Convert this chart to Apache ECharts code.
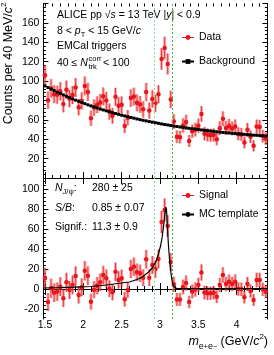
<!DOCTYPE html>
<html><head><meta charset="utf-8">
<script src="https://cdn.jsdelivr.net/npm/echarts@6/dist/echarts.min.js"></script>
<style>html,body{margin:0;padding:0;background:#fff}#c{width:274px;height:355px}</style>
</head><body><div id="c"></div>
<script>
// ---- data ----
const massBins = [1.50,1.54,1.58,1.62,1.66,1.70,1.74,1.78,1.82,1.86,1.90,1.94,1.98,2.02,2.06,2.10,2.14,2.18,2.22,2.26,2.30,2.34,2.38,2.42,2.46,2.50,2.54,2.58,2.62,2.66,2.70,2.74,2.78,2.82,2.86,2.90,2.94,2.98,3.02,3.06,3.10,3.14,3.18,3.22,3.26,3.30,3.34,3.38,3.42,3.46,3.50,3.54,3.58,3.62,3.66,3.70,3.74,3.78,3.82,3.86,3.90,3.94,3.98,4.02,4.06,4.10,4.14,4.18,4.22,4.26,4.30,4.34,4.38];
const dataCounts = [106.0,80.3,92.4,86.5,85.9,89.4,76.4,91.0,81.9,85.6,93.3,73.1,79.5,95.0,88.8,61.7,72.6,75.6,77.9,84.2,80.0,68.6,64.1,83.8,74.6,75.5,53.7,62.2,82.4,84.0,77.6,75.9,70.8,88.6,69.5,81.6,77.0,86.4,122.8,134.2,117.7,81.1,58.3,42.6,42.1,54.2,57.7,38.2,48.3,49.9,54.0,66.1,45.7,44.5,44.1,44.4,40.0,51.4,61.0,51.7,53.7,51.1,53.1,45.5,45.0,36.7,49.7,42.5,33.2,53.0,52.7,43.2,40.6];
const dataErr = [10.3,9.0,9.6,9.3,9.3,9.5,8.7,9.5,9.0,9.3,9.7,8.5,8.9,9.7,9.4,7.9,8.5,8.7,8.8,9.2,8.9,8.3,8.0,9.2,8.6,8.7,7.3,7.9,9.1,9.2,8.8,8.7,8.4,9.4,8.3,9.0,8.8,9.3,11.1,11.6,10.8,9.0,7.6,6.5,6.5,7.4,7.6,6.2,6.9,7.1,7.3,8.1,6.8,6.7,6.6,6.7,6.3,7.2,7.8,7.2,7.3,7.1,7.3,6.7,6.7,6.1,7.0,6.5,5.8,7.3,7.3,6.6,6.4];
const background = [95.0,93.3,91.7,90.2,88.6,87.1,85.7,84.3,82.9,81.6,80.3,79.1,77.8,76.7,75.5,74.4,73.3,72.3,71.2,70.2,69.3,68.3,67.4,66.5,65.6,64.8,64.0,63.2,62.4,61.7,60.9,60.2,59.5,58.9,58.2,57.6,57.0,56.4,55.8,55.2,54.7,54.1,53.6,53.1,52.6,52.2,51.7,51.2,50.8,50.4,50.0,49.6,49.2,48.8,48.4,48.1,47.7,47.4,47.0,46.7,46.4,46.1,45.8,45.5,45.3,45.0,44.7,44.5,44.2,44.0,43.7,43.5,43.3];
const signal = [11.0,-13.0,0.7,-3.7,-2.7,2.3,-9.3,6.7,-1.0,4.0,13.0,-6.0,1.7,18.3,13.3,-12.7,-0.7,3.3,6.7,14.0,10.7,0.3,-3.3,17.3,9.0,10.7,-10.3,-1.0,20.0,22.3,16.7,15.7,11.3,29.7,11.3,24.0,20.0,30.0,67.0,79.0,63.0,27.0,4.7,-10.5,-10.5,2.0,6.0,-13.0,-2.5,-0.5,4.0,16.5,-3.5,-4.3,-4.3,-3.7,-7.7,4.0,14.0,5.0,7.3,5.0,7.3,0.0,-0.3,-8.3,5.0,-2.0,-11.0,9.0,9.0,-0.3,-2.7];
const templateMass = [1.48,1.70,1.90,2.10,2.30,2.45,2.60,2.70,2.77,2.85,2.90,2.95,2.98,3.01,3.03,3.05,3.065,3.075,3.085,3.095,3.11,3.125,3.14,3.155,3.17,3.19,3.22,4.40];
const templateCounts = [1.0,1.3,1.8,2.5,4.0,5.5,7.0,9.5,12.0,17.0,21.0,28.0,35.0,44.0,53.0,65.0,76.0,82.0,79.0,64.0,44.0,29.0,18.0,9.0,4.0,1.3,0.6,0.5];
const windowEdges = [2.92, 3.16];
const xMajorTicks = [1.5,2,2.5,3,3.5,4];
const xMinorTicks = [1.5,1.6,1.7,1.8,1.9,2.0,2.1,2.2,2.3,2.4,2.5,2.6,2.7,2.8,2.9,3.0,3.1,3.2,3.3,3.4,3.5,3.6,3.7,3.8,3.9,4.0,4.1,4.2,4.3,4.4];
const topYLabels = [20,40,60,80,100,120,140,160];
const bottomYTicks = [-20,0,20,40,60,80,100];
const bottomYMinorTicks = [-28,-24,-20,-16,-12,-8,-4,0,4,8,12,16,20,24,28,32,36,40,44,48,52,56,60,64,68,72,76,80,84,88,92,96,100,104,108];

// ---- styling ----
const FF = '"Liberation Sans", Arial, Helvetica, sans-serif';
const RED = '#e8161c';
const PINK = 'rgba(240,90,90,0.5)';
const FS = 10.5;

function errRender(params, api) {
  const x = api.value(0), y = api.value(1), e = api.value(2);
  const t = api.coord([x, y + e]);
  const b = api.coord([x, y - e]);
  return {
    type: 'group',
    children: [
      {type: 'rect', shape: {x: t[0] - 1.5, y: t[1], width: 3, height: b[1] - t[1]}, style: {fill: PINK}},
      {type: 'line', shape: {x1: t[0], y1: t[1], x2: b[0], y2: b[1]}, style: {stroke: RED, lineWidth: 1, opacity: 0.75}}
    ]
  };
}

const winLine = {
  silent: true, symbol: ['none', 'none'], label: {show: false}, animation: false,
  lineStyle: {type: [2, 2], width: 1},
  data: [
    {xAxis: windowEdges[0], lineStyle: {color: '#8fdc8f', type: [2, 2], width: 1}},
    {xAxis: windowEdges[1], lineStyle: {color: '#3db83d', type: [2, 2], width: 1}}
  ]
};

const X_MIN = 1.48, X_MAX = 4.4;
function xAx(grid, pos, ticks, len, showLine, labels) {
  return {
    type: 'value', gridIndex: grid, position: pos, min: X_MIN, max: X_MAX,
    axisLine: {show: showLine, lineStyle: {color: '#000', width: 1}},
    axisTick: {show: true, inside: true, length: len, customValues: ticks, lineStyle: {color: '#000'}},
    axisLabel: labels ? {show: true, customValues: xMajorTicks, color: '#000', fontSize: FS, fontFamily: FF, margin: 1} : {show: false},
    splitLine: {show: false}
  };
}

const chart = echarts.init(document.getElementById('c'), null, {renderer: 'canvas'});
const option = {
  animation: false,
  backgroundColor: '#fff',
  grid: [
    {left: 43.4, right: 6.6, top: 3.5, height: 174.5},
    {left: 43.4, right: 6.6, top: 178, height: 141}
  ],
  xAxis: [
    xAx(0, 'bottom', xMajorTicks, 6, true, false),
    xAx(0, 'top', xMajorTicks, 6, true, false),
    xAx(0, 'bottom', xMinorTicks, 3, false, false),
    xAx(0, 'top', xMinorTicks, 3, false, false),
    xAx(1, 'bottom', xMajorTicks, 6, true, true),
    xAx(1, 'top', xMajorTicks, 6, true, false),
    xAx(1, 'bottom', xMinorTicks, 3, false, false),
    xAx(1, 'top', xMinorTicks, 3, false, false)
  ],
  yAxis: [
    {type: 'value', gridIndex: 0, position: 'left', min: 0, max: 180, interval: 20,
     axisLine: {show: true, lineStyle: {color: '#000'}},
     axisTick: {inside: true, length: 5, lineStyle: {color: '#000'}},
     minorTick: {show: true, splitNumber: 5, length: 2.5, lineStyle: {color: '#000'}},
     axisLabel: {customValues: topYLabels, color: '#000', fontSize: FS, fontFamily: FF, margin: 4},
     splitLine: {show: false}},
    {type: 'value', gridIndex: 0, position: 'right', min: 0, max: 180, interval: 20,
     axisLine: {show: true, lineStyle: {color: '#000'}},
     axisTick: {inside: true, length: 5, lineStyle: {color: '#000'}},
     minorTick: {show: true, splitNumber: 5, length: 2.5, lineStyle: {color: '#000'}},
     axisLabel: {show: false}, splitLine: {show: false}},
    {type: 'value', gridIndex: 1, position: 'left', min: -30, max: 111,
     axisLine: {show: true, lineStyle: {color: '#000'}},
     axisTick: {inside: true, length: 5, customValues: bottomYTicks, lineStyle: {color: '#000'}},
     axisLabel: {customValues: bottomYTicks, color: '#000', fontSize: FS, fontFamily: FF, margin: 4},
     splitLine: {show: false}},
    {type: 'value', gridIndex: 1, position: 'right', min: -30, max: 111,
     axisLine: {show: true, lineStyle: {color: '#000'}},
     axisTick: {inside: true, length: 5, customValues: bottomYTicks, lineStyle: {color: '#000'}},
     axisLabel: {show: false}, splitLine: {show: false}},
    {type: 'value', gridIndex: 1, position: 'left', min: -30, max: 111,
     axisLine: {show: false},
     axisTick: {inside: true, length: 2.5, customValues: bottomYMinorTicks, lineStyle: {color: '#000'}},
     axisLabel: {show: false}, splitLine: {show: false}},
    {type: 'value', gridIndex: 1, position: 'right', min: -30, max: 111,
     axisLine: {show: false},
     axisTick: {inside: true, length: 2.5, customValues: bottomYMinorTicks, lineStyle: {color: '#000'}},
     axisLabel: {show: false}, splitLine: {show: false}}
  ],
  legend: [
    {data: [{name: 'Data', lineStyle: {opacity: 1, width: 1, color: RED}}, 'Background'],
     orient: 'vertical', left: 176, top: 27, itemWidth: 12, itemHeight: 6, itemGap: 13,
     selectedMode: false, textStyle: {fontSize: FS, color: '#000', fontFamily: FF}},
    {data: [{name: 'Signal', lineStyle: {opacity: 1, width: 1, color: RED}}, 'MC template'],
     orient: 'vertical', left: 176, top: 185, itemWidth: 12, itemHeight: 6, itemGap: 8,
     selectedMode: false, textStyle: {fontSize: FS, color: '#000', fontFamily: FF}}
  ],
  series: [
    {type: 'custom', name: 'DataErr', xAxisIndex: 0, yAxisIndex: 0, renderItem: errRender,
     data: massBins.map((m, i) => [m, dataCounts[i], dataErr[i]]), markLine: winLine, z: 2},
    {type: 'line', name: 'Data', xAxisIndex: 0, yAxisIndex: 0,
     data: massBins.map((m, i) => [m, dataCounts[i]]),
     symbol: 'circle', symbolSize: 4.5, showAllSymbol: true,
     itemStyle: {color: RED}, lineStyle: {opacity: 0, color: RED}, z: 4},
    {type: 'line', name: 'Background', xAxisIndex: 0, yAxisIndex: 0,
     data: massBins.map((m, i) => [m, background[i]]),
     symbol: 'rect', symbolSize: 3, showAllSymbol: true,
     itemStyle: {color: '#000'}, lineStyle: {color: '#000', width: 1}, z: 5},
    {type: 'custom', name: 'SignalErr', xAxisIndex: 4, yAxisIndex: 2, renderItem: errRender,
     data: massBins.map((m, i) => [m, signal[i], dataErr[i]]), markLine: winLine, z: 2},
    {type: 'line', name: 'Signal', xAxisIndex: 4, yAxisIndex: 2,
     data: massBins.map((m, i) => [m, signal[i]]),
     symbol: 'circle', symbolSize: 4.5, showAllSymbol: true,
     itemStyle: {color: RED}, lineStyle: {opacity: 0, color: RED}, z: 4},
    {type: 'line', name: 'MC template', xAxisIndex: 4, yAxisIndex: 2,
     data: templateMass.map((m, i) => [m, templateCounts[i]]),
     symbol: 'none', itemStyle: {color: '#000'}, lineStyle: {color: '#000', width: 1.2}, z: 5}
  ],
  graphic: [
    {type: 'text', x: 57, y: 15, style: {
      text: '{a|ALICE pp √}{i|s}{a| = 13 TeV |}{i|y}{a|| < 0.9}', verticalAlign: 'middle', fill: '#000',
      rich: {a: {fontSize: FS, fontFamily: FF, fill: '#000'}, i: {fontSize: FS, fontFamily: FF, fontStyle: 'italic', fill: '#000'}}}},
    {type: 'text', x: 57, y: 31, style: {
      text: '{a|8 < }{i|p}{s|T}{a| < 15 GeV/}{i|c}', verticalAlign: 'middle', fill: '#000',
      rich: {a: {fontSize: FS, fontFamily: FF, lineHeight: 16, fill: '#000'},
             i: {fontSize: FS, fontFamily: FF, fontStyle: 'italic', lineHeight: 16, fill: '#000'},
             s: {fontSize: 7.5, fontFamily: FF, lineHeight: 9, verticalAlign: 'bottom', fill: '#000'}}}},
    {type: 'text', x: 57, y: 46, style: {text: 'EMCal triggers', font: FS + 'px ' + FF, verticalAlign: 'middle', fill: '#000'}},
    {type: 'text', x: 57, y: 63, style: {
      text: '{a|40 ≤ }{i|N}', verticalAlign: 'middle', fill: '#000',
      rich: {a: {fontSize: FS, fontFamily: FF, fill: '#000'}, i: {fontSize: FS, fontFamily: FF, fontStyle: 'italic', fill: '#000'}}}},
    {type: 'text', x: 88.5, y: 58.5, style: {text: 'corr', font: '7.5px ' + FF, verticalAlign: 'middle', fill: '#000'}},
    {type: 'text', x: 88.5, y: 67, style: {text: 'trk', font: '7.5px ' + FF, verticalAlign: 'middle', fill: '#000'}},
    {type: 'text', x: 103, y: 63, style: {text: '< 100', font: FS + 'px ' + FF, verticalAlign: 'middle', fill: '#000'}},

    {type: 'text', x: 55, y: 188, style: {
      text: '{i|N}{s|J/ψ}{a|:}', verticalAlign: 'middle', fill: '#000',
      rich: {a: {fontSize: FS, fontFamily: FF, lineHeight: 16, fill: '#000'},
             i: {fontSize: FS, fontFamily: FF, fontStyle: 'italic', lineHeight: 16, fill: '#000'},
             s: {fontSize: 7.5, fontFamily: FF, lineHeight: 9, verticalAlign: 'bottom', fill: '#000'}}}},
    {type: 'text', x: 92, y: 188, style: {text: '280 ± 25', font: FS + 'px ' + FF, verticalAlign: 'middle', fill: '#000'}},
    {type: 'text', x: 55, y: 208, style: {
      text: '{i|S/B}{a|:}', verticalAlign: 'middle', fill: '#000',
      rich: {a: {fontSize: FS, fontFamily: FF, fill: '#000'}, i: {fontSize: FS, fontFamily: FF, fontStyle: 'italic', fill: '#000'}}}},
    {type: 'text', x: 92, y: 208, style: {text: '0.85 ± 0.07', font: FS + 'px ' + FF, verticalAlign: 'middle', fill: '#000'}},
    {type: 'text', x: 55, y: 227, style: {text: 'Signif.:', font: FS + 'px ' + FF, verticalAlign: 'middle', fill: '#000'}},
    {type: 'text', x: 92, y: 227, style: {text: '11.3 ± 0.9', font: FS + 'px ' + FF, verticalAlign: 'middle', fill: '#000'}},

    {type: 'text', x: 268, y: 342, style: {
      text: '{i|m}{s|e}{p|+}{s|e}{p|−}{a| (GeV/}{i|c}{u|2}{a|)}', align: 'right', verticalAlign: 'middle', fill: '#000',
      rich: {a: {fontSize: 12.5, fontFamily: FF, lineHeight: 18, fill: '#000'},
             i: {fontSize: 12.5, fontFamily: FF, fontStyle: 'italic', lineHeight: 18, fill: '#000'},
             s: {fontSize: 9, fontFamily: FF, lineHeight: 10, verticalAlign: 'bottom', fill: '#000'},
             p: {fontSize: 7, fontFamily: FF, lineHeight: 14, verticalAlign: 'bottom', fill: '#000'},
             u: {fontSize: 8, fontFamily: FF, lineHeight: 10, verticalAlign: 'top', fill: '#000'}}}},
    {type: 'text', x: 8.5, y: 2.5, rotation: Math.PI / 2, style: {
      text: '{a|Counts per 40 MeV/}{i|c}{u|2}', align: 'right', verticalAlign: 'middle', fill: '#000',
      rich: {a: {fontSize: 12.5, fontFamily: FF, lineHeight: 18, fill: '#000'},
             i: {fontSize: 12.5, fontFamily: FF, fontStyle: 'italic', lineHeight: 18, fill: '#000'},
             u: {fontSize: 8, fontFamily: FF, lineHeight: 10, verticalAlign: 'top', fill: '#000'}}}}
  ]
};
chart.setOption(option);
</script>
</body></html>
